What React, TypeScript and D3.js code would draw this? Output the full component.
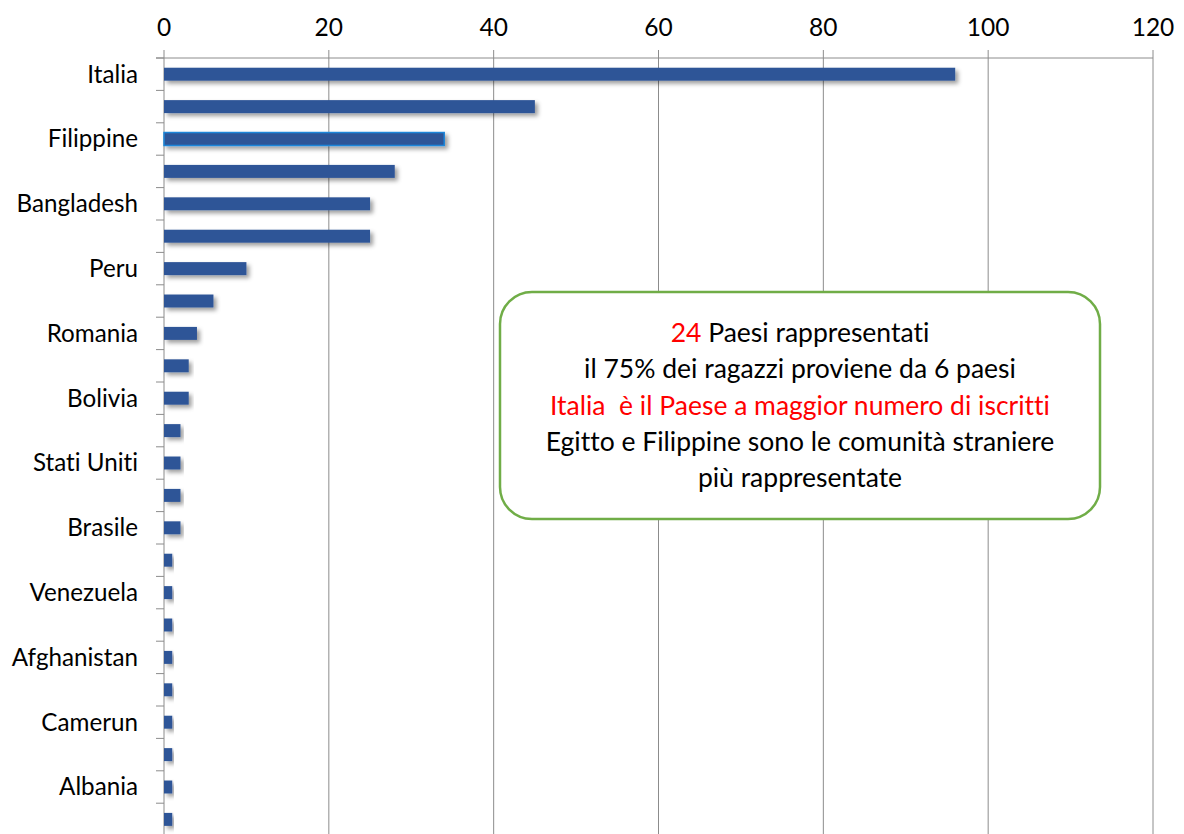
import React from "react";
import * as d3 from "d3";

const categories = [
  "Italia", "Egitto", "Filippine", "Cina", "Bangladesh", "Ecuador",
  "Peru", "Marocco", "Romania", "Sri Lanka", "Bolivia", "Ucraina",
  "Stati Uniti", "Colombia", "Brasile", "India", "Venezuela", "Polonia",
  "Afghanistan", "Moldavia", "Camerun", "Tunisia", "Albania", "Senegal",
];
const values = [96, 45, 34, 28, 25, 25, 10, 6, 4, 3, 3, 2, 2, 2, 2, 1, 1, 1, 1, 1, 1, 1, 1, 1];
const xTicks = [0, 20, 40, 60, 80, 100, 120];
const highlighted = "Filippine";

const noteLines: { parts: { text: string; red: boolean }[] }[] = [
  { parts: [{ text: "24", red: true }, { text: " Paesi rappresentati", red: false }] },
  { parts: [{ text: "il 75% dei ragazzi proviene da 6 paesi", red: false }] },
  { parts: [{ text: "Italia  è il Paese a maggior numero di iscritti", red: true }] },
  { parts: [{ text: "Egitto e Filippine sono le comunità straniere", red: false }] },
  { parts: [{ text: "più rappresentate", red: false }] },
];

const W = 1184;
const H = 834;
const FONT = "Lato, 'Open Sans', sans-serif";
const textStyle: React.CSSProperties = { fontVariantLigatures: "none", whiteSpace: "pre" };

export default function App() {
  const x = d3.scaleLinear().domain([0, 120]).range([164, 1153]);
  const y = d3
    .scaleBand<string>()
    .domain(categories)
    .range([58, 58 + 32.4 * categories.length])
    .paddingInner(0.6)
    .paddingOuter(0.3);
  const step = y.step();
  const top = 58;

  return (
    <svg
      width={W}
      height={H}
      style={{ position: "absolute", left: 0, top: 0, background: "#fff" }}
    >
      <defs>
        <filter id="sh" x="-10%" y="-50%" width="130%" height="250%">
          <feDropShadow dx="3" dy="3" stdDeviation="2.2" floodColor="#000" floodOpacity="0.38" />
        </filter>
      </defs>
      {xTicks.map((t) => (
        <line key={"g" + t} x1={x(t)} x2={x(t)} y1={50} y2={H} stroke="#8c8c8c" strokeWidth={1} />
      ))}
      <line x1={156} x2={x(120)} y1={top} y2={top} stroke="#8c8c8c" strokeWidth={1} />
      {xTicks.map((t) => (
        <text key={"t" + t} x={x(t)} y={36} textAnchor="middle" fontFamily={FONT} fontSize={24.5} fill="#000" style={textStyle}>
          {t}
        </text>
      ))}
      {d3.range(categories.length + 1).map((i) => (
        <line key={"c" + i} x1={156} x2={164} y1={top + i * step} y2={top + i * step} stroke="#8c8c8c" strokeWidth={1} />
      ))}
      {categories.map((c, i) => (
        <rect
          key={c}
          x={x(0)}
          y={y(c)!}
          width={x(values[i]) - x(0)}
          height={y.bandwidth()}
          fill="#2F5597"
          stroke={c === highlighted ? "#1C86D9" : "none"}
          strokeWidth={c === highlighted ? 1.5 : 0}
          filter="url(#sh)"
        />
      ))}
      {categories.map((c, i) =>
        i % 2 === 0 ? (
          <text
            key={"l" + c}
            x={138}
            y={y(c)! + y.bandwidth() / 2}
            dy="0.35em"
            textAnchor="end"
            fontFamily={FONT}
            fontSize={24.2}
            fill="#000"
            style={textStyle}
          >
            {c}
          </text>
        ) : null
      )}
      <rect x={500} y={292} width={600} height={227} rx={32} ry={32} fill="#fff" stroke="#70AD47" strokeWidth={2.5} />
      {noteLines.map((ln, i) => (
        <text
          key={"n" + i}
          x={800}
          y={333 + i * 36.2}
          dy="0.35em"
          textAnchor="middle"
          fontFamily={FONT}
          fontSize={26.5}
          style={textStyle}
        >
          {ln.parts.map((p, j) => (
            <tspan key={j} fill={p.red ? "#FF0000" : "#000"}>
              {p.text}
            </tspan>
          ))}
        </text>
      ))}
    </svg>
  );
}
